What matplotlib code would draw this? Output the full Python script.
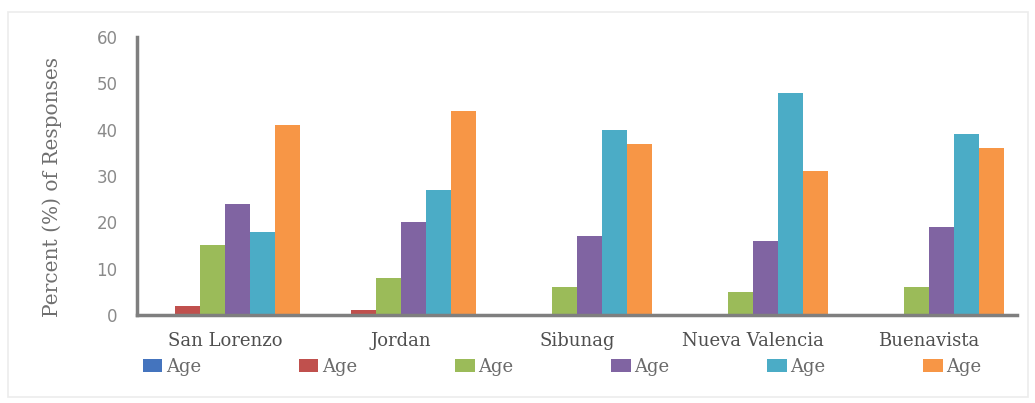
import matplotlib.pyplot as plt
import numpy as np
from matplotlib.patches import Rectangle

# Barangays surveyed and share of responses per age bracket
sites = ['San Lorenzo', 'Jordan', 'Sibunag', 'Nueva Valencia', 'Buenavista']
series_labels = ['Age', 'Age', 'Age', 'Age', 'Age', 'Age']
age_1 = [0, 0, 0, 0, 0]
age_2 = [2, 1, 0, 0, 0]
age_3 = [15, 8, 6, 5, 6]
age_4 = [24, 20, 17, 16, 19]
age_5 = [18, 27, 40, 48, 39]
age_6 = [41, 44, 37, 31, 36]
y_ticks = [0, 10, 20, 30, 40, 50, 60]

# Office-style palette
COLORS = ['#4474BE', '#C0504D', '#9BBB59', '#8064A2', '#4BACC6', '#F79646']
BAR_W = 0.142

fig = plt.figure(figsize=(10.35, 4.03), dpi=100)
fig.patches.append(Rectangle((0.008, 0.015), 0.985, 0.955, transform=fig.transFigure,
                             facecolor='none', edgecolor='#ececec', linewidth=1.2))
ax = fig.add_axes([0.1324, 0.2184, 0.850, 0.690])

x = np.arange(len(sites))
all_series = [age_1, age_2, age_3, age_4, age_5, age_6]
for i, (vals, color, lab) in enumerate(zip(all_series, COLORS, series_labels)):
    offset = (i - 2.5) * BAR_W
    ax.bar(x + offset, vals, width=BAR_W, color=color, label=lab, zorder=2)

ax.set_xlim(-0.5, len(sites) - 0.5)
ax.set_ylim(0, 60)
ax.set_yticks(y_ticks)
ax.set_yticklabels([str(t) for t in y_ticks], fontsize=12, color='#8a8a8a',
                   family='DejaVu Sans')
ax.set_xticks(x)
ax.set_xticklabels(sites, fontsize=13, color='#4f4f4f', family='DejaVu Serif')
ax.tick_params(axis='y', length=0, pad=14)
ax.tick_params(axis='x', length=0, pad=12)

for side in ['top', 'right']:
    ax.spines[side].set_visible(False)
for side in ['left', 'bottom']:
    ax.spines[side].set_color('#7f7f7f')
    ax.spines[side].set_linewidth(2.5)
    ax.spines[side].set_zorder(3)

ax.set_ylabel('Percent (%) of Responses', fontsize=14.5, color='#6f6f6f',
              family='DejaVu Serif', labelpad=10)
ax.yaxis.set_label_coords(-0.085, 0.46)

leg = fig.legend(loc='center left', bbox_to_anchor=(0.122, 0.09), ncol=6,
                 frameon=False, handlelength=1.1, handleheight=0.75,
                 handletextpad=0.2, columnspacing=5.4,
                 prop={'family': 'DejaVu Serif', 'size': 13})
for t in leg.get_texts():
    t.set_color('#6a6a6a')

fig.savefig('out.png', dpi=100)
